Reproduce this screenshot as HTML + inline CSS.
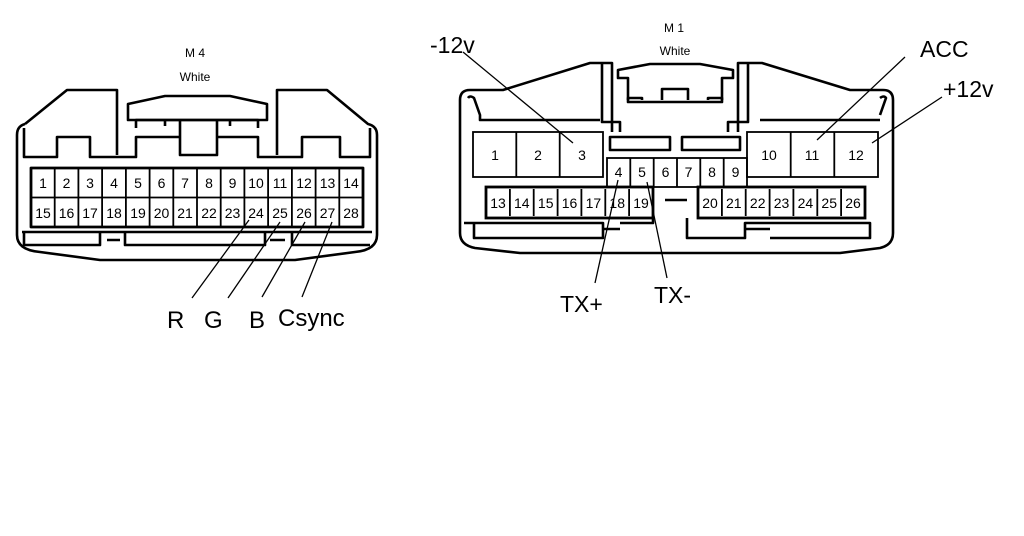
<!DOCTYPE html>
<html><head><meta charset="utf-8"><style>
html,body{margin:0;padding:0;background:#fff;}
svg{display:block;}
text{font-family:"Liberation Sans",Arial,sans-serif;fill:#000;}
</style></head><body>
<svg width="1024" height="536" viewBox="0 0 1024 536" xmlns="http://www.w3.org/2000/svg">
<g fill="none" stroke="#000" stroke-width="2.6" stroke-linejoin="round">
<path d="M25,124 L67,90 L117,90 L117,155 M25,124 Q17,126 17,135 L17,235 Q17,250 40,252 L100,260 L295,260 L355,252 Q377,250 377,235 L377,135 Q377,126 368,124 L327,90 L277,90 L277,155"/>
<path d="M128,120 L128,104 L165,96 L230,96 L267,104 L267,120 Z"/>
<path d="M136,128 L136,120 L258,120 L258,128 M165,120 L165,126 M230,120 L230,126 M180,120 L180,155 L217,155 L217,120"/>
<path d="M24,128 L24,157 L57,157 L57,137 L90,137 L90,157 L136,157 L136,137 L180,137 M217,137 L258,137 L258,157 L302,157 L302,137 L340,137 L340,157 L370,157 L370,128"/>
<path d="M22,232 L372,232 M24,232 L24,245 L100,245 L100,232 M107,240 L120,240 M125,232 L125,245 L265,245 L265,232 M270,240 L285,240 M292,232 L292,245 L370,245"/>
<rect x="31" y="168" width="332" height="59" stroke-width="2.8"/>
</g>
<g fill="none" stroke="#000" stroke-width="1.8">
<path d="M54.7,168V227 M78.4,168V227 M102.1,168V227 M125.9,168V227 M149.6,168V227 M173.3,168V227 M197,168V227 M220.7,168V227 M244.4,168V227 M268.1,168V227 M291.9,168V227 M315.6,168V227 M339.3,168V227 M31,197.5H363"/>
</g>
<g font-size="14" text-anchor="middle">
<text x="43" y="188">1</text><text x="66.5" y="188">2</text><text x="90" y="188">3</text><text x="114" y="188">4</text><text x="138" y="188">5</text><text x="161.5" y="188">6</text><text x="185" y="188">7</text><text x="209" y="188">8</text><text x="232.5" y="188">9</text><text x="256" y="188">10</text><text x="280" y="188">11</text><text x="304" y="188">12</text><text x="327.5" y="188">13</text><text x="351" y="188">14</text>
<text x="43" y="218">15</text><text x="66.5" y="218">16</text><text x="90" y="218">17</text><text x="114" y="218">18</text><text x="138" y="218">19</text><text x="161.5" y="218">20</text><text x="185" y="218">21</text><text x="209" y="218">22</text><text x="232.5" y="218">23</text><text x="256" y="218">24</text><text x="280" y="218">25</text><text x="304" y="218">26</text><text x="327.5" y="218">27</text><text x="351" y="218">28</text>
</g>
<text x="195" y="57" font-size="12" text-anchor="middle">M  4</text>
<text x="195" y="81" font-size="12" text-anchor="middle">White</text>
<g stroke="#000" stroke-width="1.3">
<line x1="249" y1="220" x2="192" y2="298"/><line x1="280" y1="222" x2="228" y2="298"/><line x1="305" y1="222" x2="262" y2="297"/><line x1="332" y1="222" x2="302" y2="297"/>
</g>
<g font-size="24">
<text x="167" y="328">R</text><text x="204" y="328">G</text><text x="249" y="328">B</text><text x="278" y="326">Csync</text>
</g>

<g fill="none" stroke="#000" stroke-width="2.6" stroke-linejoin="round">
<path d="M470,90 L503,90 L590,63 L612,63 L612,132 M602,63 L602,122 L620,122 L620,132"/>
<path d="M470,90 Q460,90 460,100 L460,233 Q460,245 475,248 L520,253 L840,253 L880,248 Q893,245 893,233 L893,100 Q893,90 883,90 L850,90 L762,63 L738,63 L738,132 M748,63 L748,122 L728,122 L728,132"/>
<path d="M468,98 Q470,95 474,98 L480,115 L480,120 L600,120 M880,120 L760,120 M880,115 L886,98 Q884,95 880,98"/>
<path d="M618,78 L618,70 L650,64 L700,64 L733,70 L733,78 L722,78 L722,102 L628,102 L628,78 Z"/>
<path d="M628,100 L628,98 L642,98 L642,100 M708,100 L708,98 L722,98 L722,100 M662,100 L662,89 L688,89 L688,100"/>
<rect x="610" y="137" width="60" height="13"/>
<rect x="682" y="137" width="58" height="13"/>
<path d="M464,223 L603,223 L603,238 L474,238 L474,223 M603,229 L620,229 M620,223 L653,223 L653,218 M687,218 L687,238 L745,238 L745,223 L870,223 L870,238 L770,238 M745,229 L770,229 M665,200 L687,200"/>
</g>
<g fill="none" stroke="#000" stroke-width="1.8">
<rect x="473" y="132" width="130" height="45"/>
<path d="M516.3,132V177 M559.7,132V177"/>
<rect x="747" y="132" width="131" height="45"/>
<path d="M790.7,132V177 M834.3,132V177"/>
<rect x="607" y="158" width="140" height="29"/>
<path d="M630.3,158V187 M653.7,158V187 M677,158V187 M700.3,158V187 M723.7,158V187"/>
</g>
<g fill="none" stroke="#000" stroke-width="2.8">
<rect x="486" y="187" width="167" height="31"/>
<rect x="698" y="187" width="167" height="31"/>
</g>
<g fill="none" stroke="#000" stroke-width="1.8">
<path d="M509.9,189V216 M533.7,189V216 M557.6,189V216 M581.4,189V216 M605.3,189V216 M629.1,189V216"/>
<path d="M721.9,189V216 M745.7,189V216 M769.6,189V216 M793.4,189V216 M817.3,189V216 M841.1,189V216"/>
</g>
<g font-size="14" text-anchor="middle">
<text x="495" y="160">1</text><text x="538" y="160">2</text><text x="582" y="160">3</text>
<text x="769" y="160">10</text><text x="812" y="160">11</text><text x="856" y="160">12</text>
<text x="618.5" y="177">4</text><text x="642" y="177">5</text><text x="665.5" y="177">6</text><text x="688.5" y="177">7</text><text x="712" y="177">8</text><text x="735.5" y="177">9</text>
<text x="498" y="208">13</text><text x="521.8" y="208">14</text><text x="545.7" y="208">15</text><text x="569.5" y="208">16</text><text x="593.4" y="208">17</text><text x="617.2" y="208">18</text><text x="641" y="208">19</text>
<text x="710" y="208">20</text><text x="733.8" y="208">21</text><text x="757.7" y="208">22</text><text x="781.5" y="208">23</text><text x="805.4" y="208">24</text><text x="829.2" y="208">25</text><text x="853" y="208">26</text>
</g>
<text x="674" y="32" font-size="12" text-anchor="middle">M  1</text>
<text x="675" y="55" font-size="12" text-anchor="middle">White</text>
<g stroke="#000" stroke-width="1.3">
<line x1="463" y1="52" x2="573" y2="143"/>
<line x1="905" y1="57" x2="817" y2="140"/>
<line x1="942" y1="97" x2="872" y2="143"/>
<line x1="618" y1="180" x2="595" y2="283"/>
<line x1="647" y1="182" x2="667" y2="278"/>
</g>
<g font-size="23">
<text x="430" y="53">-12v</text>
<text x="920" y="57">ACC</text>
<text x="943" y="97">+12v</text>
<text x="560" y="312">TX+</text>
<text x="654" y="303">TX-</text>
</g>
</svg>
</body></html>
